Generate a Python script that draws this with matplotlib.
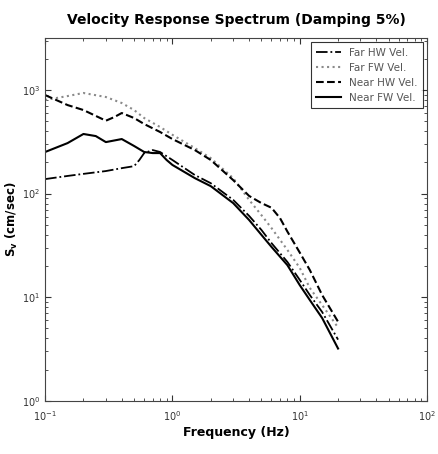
import numpy as np
import matplotlib
matplotlib.use("Agg")
import matplotlib.pyplot as plt

# frequencies (Hz) and spectral velocities (cm/sec) for each record
freq_far_hw = [0.1, 0.15, 0.2, 0.3, 0.4, 0.5, 0.55, 0.6, 0.7, 0.8, 1, 1.5, 2, 3, 4, 5, 6, 8, 10, 12, 15, 20]
sv_far_hw = [138, 148, 155, 165, 176, 184, 211, 246, 263, 252, 211, 151, 126, 87, 61, 44.6, 33.3, 21.9, 14.7, 10.5, 7.2, 3.9]

freq_far_fw = [0.1, 0.15, 0.2, 0.3, 0.4, 0.5, 0.6, 0.8, 1, 1.5, 2, 3, 4, 5, 6, 8, 10, 12, 15, 20]
sv_far_fw = [800, 873, 935, 855, 748, 640, 536, 439, 369, 275, 220, 141, 87, 62, 46.5, 28.6, 19.2, 12.3, 8.4, 5.1]

freq_near_hw = [0.1, 0.15, 0.2, 0.3, 0.35, 0.4, 0.5, 0.6, 0.8, 1, 1.5, 2, 3, 4, 5, 6, 7, 8, 10, 12, 15, 20]
sv_near_hw = [893, 715, 640, 505, 548, 599, 536, 469, 393, 336, 263, 211, 135, 95, 81, 73, 58, 43, 27, 18.3, 10.5, 5.8]

freq_near_fw = [0.1, 0.15, 0.2, 0.25, 0.3, 0.4, 0.5, 0.6, 0.7, 0.8, 0.9, 1, 1.5, 2, 3, 4, 5, 6, 8, 10, 12, 15, 20]
sv_near_fw = [252, 307, 376, 359, 314, 336, 288, 252, 246, 246, 211, 189, 141, 118, 81, 55.7, 40, 30.6, 20.4, 13.1, 9.4, 6.3, 3.2]

fig = plt.figure(figsize=(4.38, 4.54), dpi=100)
ax = fig.add_axes([0.103, 0.117, 0.872, 0.799])

ax.loglog(freq_far_hw, sv_far_hw, color="black", ls="-.", lw=1.3, label="Far HW Vel.")
ax.loglog(freq_far_fw, sv_far_fw, color="#8a8a8a", ls=":", lw=1.5, label="Far FW Vel.")
ax.loglog(freq_near_hw, sv_near_hw, color="black", ls="--", lw=1.5, label="Near HW Vel.")
ax.loglog(freq_near_fw, sv_near_fw, color="black", ls="-", lw=1.5, label="Near FW Vel.")

ax.set_xlim(0.1, 100)
ax.set_ylim(1, 10 ** 3.5)
ax.tick_params(which="both", direction="in", top=True, right=True, labelsize=7, colors="#333333")
ax.tick_params(which="major", length=4)
ax.tick_params(which="minor", length=2)
ax.tick_params(axis="x", pad=6)
for s in ax.spines.values():
    s.set_color("#444444")

ax.set_title("Velocity Response Spectrum (Damping 5%)", fontsize=10, fontweight="bold", pad=10)
ax.set_xlabel("Frequency (Hz)", fontsize=9, fontweight="bold", labelpad=2)
ax.set_ylabel(r"S$_\mathbf{v}$ (cm/sec)", fontsize=8.5, fontweight="bold", labelpad=1)

leg = ax.legend(loc="upper right", fontsize=7.5, frameon=True, fancybox=False,
                edgecolor="black", handlelength=2.4, borderaxespad=0.4, labelspacing=0.5,
                borderpad=0.5)
leg.get_frame().set_linewidth(0.8)
for t in leg.get_texts():
    t.set_color("#555555")

fig.savefig("out.png", dpi=100)
